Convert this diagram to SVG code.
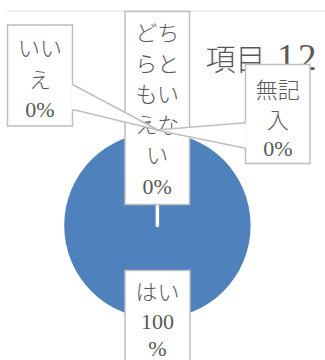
<svg xmlns="http://www.w3.org/2000/svg" width="325" height="360" viewBox="0 0 325 360">
<style>
.box{fill:#fff;stroke:#bfbfbf;stroke-width:1.5}
.lbl{font-family:"Liberation Serif","Noto Sans CJK JP",serif;font-size:22px;fill:#595959;text-anchor:middle;font-weight:300}
.title{font-family:"Liberation Serif","Noto Sans CJK JP",serif;font-size:30px;fill:#595959;font-weight:300}
.digits{font-size:37px}
.wfill{fill:#fff;stroke:none}
.lead{fill:none;stroke:#bfbfbf;stroke-width:1.5;stroke-linejoin:round}
</style>
<rect width="325" height="360" fill="#fff"/>
<line x1="7" y1="11" x2="325" y2="11" stroke="#d9d9d9" stroke-width="1"/>
<g id="pie">
<circle cx="157.4" cy="225.5" r="93.2" fill="#4f81bd"/>
<line x1="157.4" y1="200" x2="157.4" y2="225.5" stroke="#fff" stroke-width="3.5" stroke-linecap="round"/>
</g>
<text id="title" class="title" x="205.5" y="70">項目<tspan class="digits" x="277">1</tspan><tspan class="digits" x="298">2</tspan></text>
<g id="node-hai">
<rect class="box" x="125" y="270.5" width="65" height="100"/>
<text class="lbl" x="157.5" y="300">はい</text>
<text class="lbl" x="157.5" y="329">100</text>
<text class="lbl" x="157.5" y="356">%</text>
</g>
<g id="node-dochira">
<rect class="box" x="125" y="11.5" width="64.5" height="193"/>
<text class="lbl" x="157.2" y="41">どち</text>
<text class="lbl" x="157.2" y="71.5">らと</text>
<text class="lbl" x="157.2" y="102">もい</text>
<text class="lbl" x="157.2" y="132.5">えな</text>
<text class="lbl" x="157.2" y="163">い</text>
<text class="lbl" x="157.2" y="194">0%</text>
</g>
<g id="node-iie">
<rect class="box" x="7.5" y="25" width="65" height="101"/>
<text class="lbl" x="40" y="56">いい</text>
<text class="lbl" x="40" y="88">え</text>
<text class="lbl" x="40" y="117">0%</text>
</g>
<g id="node-mukinyu">
<rect class="box" x="245.5" y="64.5" width="64.5" height="99"/>
<text class="lbl" x="277.8" y="98">無記</text>
<text class="lbl" x="277.8" y="128">入</text>
<text class="lbl" x="277.8" y="156">0%</text>
</g>
<g id="connectors">
<path class="wfill" d="M71.5,84.5 L72.5,84.5 L158,130 L72.5,109.5 L71.5,109.5 Z"/>
<polyline class="lead" points="72.5,84.5 158,130 72.5,109.5"/>
<path class="wfill" d="M246.5,122.7 L245.5,122.7 L156,130 L245.5,148.3 L246.5,148.3 Z"/>
<polyline class="lead" points="245.5,122.7 156,130 245.5,148.3"/>
</g>
</svg>
